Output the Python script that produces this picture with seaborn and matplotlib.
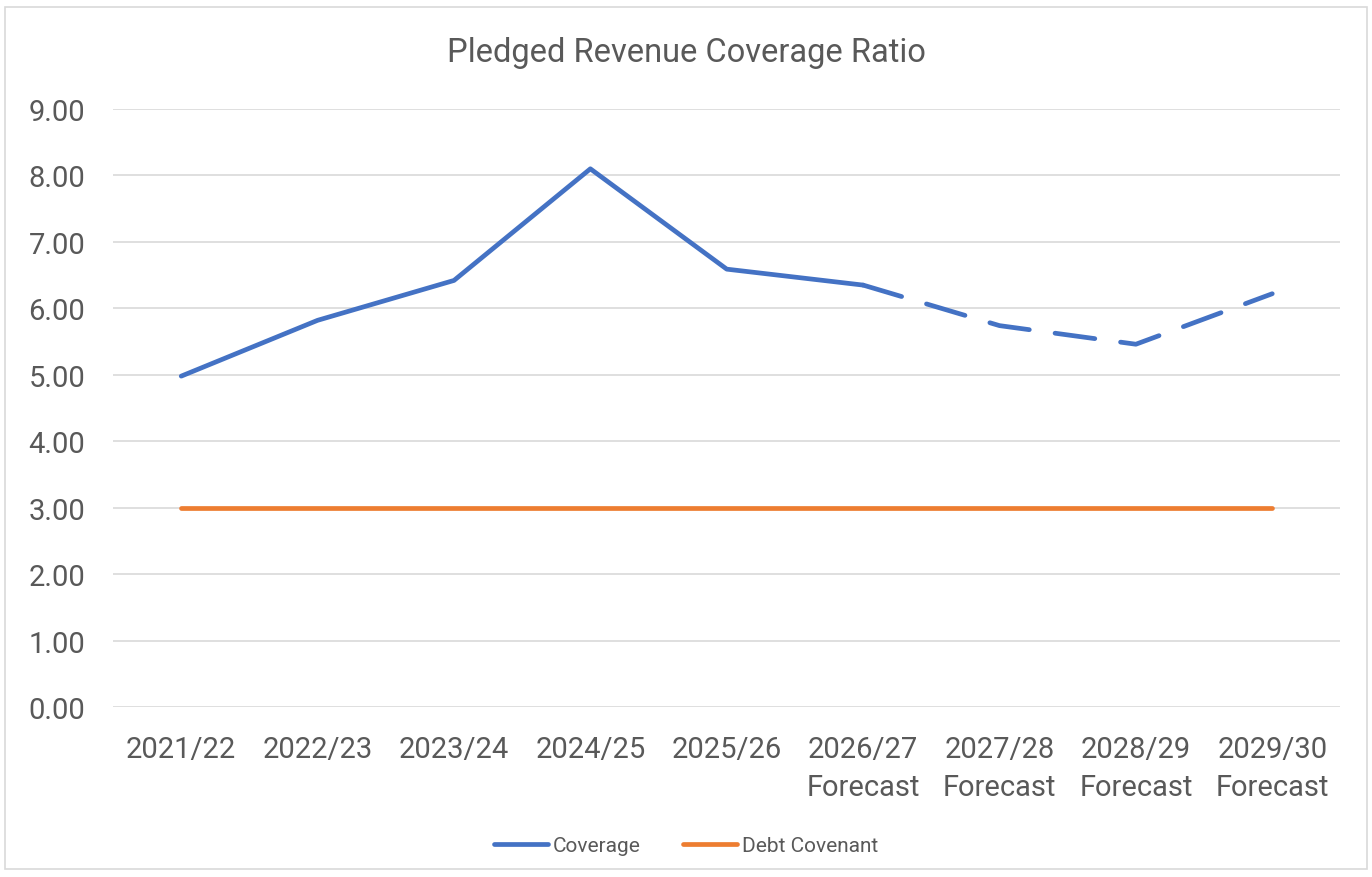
import numpy as np
import pandas as pd
import matplotlib
matplotlib.use('Agg')
import matplotlib.pyplot as plt
import seaborn as sns

# Chart data
years = ['2021/22', '2022/23', '2023/24', '2024/25', '2025/26',
         '2026/27\nForecast', '2027/28\nForecast', '2028/29\nForecast', '2029/30\nForecast']
coverage = [4.98, 5.82, 6.42, 8.10, 6.59, 6.35, 5.74, 5.46, 6.22]
covenant = [3.00, 3.00, 3.00, 3.00, 3.00, 3.00, 3.00, 3.00, 3.00]
n_actual = 6  # solid up to 2026/27, dashed after

sns.set_theme(style="white")
plt.rcParams['font.family'] = ['Roboto', 'DejaVu Sans']

df = pd.DataFrame({'idx': np.arange(len(years)), 'Coverage': coverage, 'Covenant': covenant})

fig = plt.figure(figsize=(13.72, 8.78), dpi=100)
ax = fig.add_axes([0.0824, 0.1936, 0.8946, 0.6811])

blue = '#4472C4'
orange = '#ED7D31'
grey = '#595959'

sns.lineplot(data=df.iloc[:n_actual], x='idx', y='Coverage', color=blue, lw=3.4,
             ax=ax, label='Coverage', solid_capstyle='round')
sns.lineplot(data=df.iloc[n_actual - 1:], x='idx', y='Coverage', color=blue, lw=3.4,
             ax=ax, linestyle=(0, (8.5, 5.5)), dash_capstyle='round')
sns.lineplot(data=df, x='idx', y='Covenant', color=orange, lw=3.4, ax=ax,
             label='Debt Covenant', solid_capstyle='round')

ax.set_xlim(-0.5, len(years) - 0.5)
ax.set_ylim(0, 9)
ax.set_yticks(np.arange(0, 10, 1))
ax.set_yticklabels([f'{v:.2f}' for v in np.arange(0, 10, 1)])
ax.set_xticks(np.arange(len(years)))
ax.set_xticklabels(years, linespacing=1.45)
ax.tick_params(axis='both', length=0, colors=grey, labelsize=21)
ax.tick_params(axis='y', pad=20)
ax.tick_params(axis='x', pad=20)
ax.yaxis.grid(True, color='#D9D9D9', lw=1.2)
ax.set_axisbelow(True)
for s in ax.spines.values():
    s.set_visible(False)
ax.set_xlabel('')
ax.set_ylabel('')

fig.suptitle('Pledged Revenue Coverage Ratio', x=0.5, y=0.958, fontsize=23.5, color=grey)

ax.get_legend().remove()
handles, labels = ax.get_legend_handles_labels()
leg = fig.legend(handles[:2], labels[:2], loc='center', bbox_to_anchor=(0.5, 0.036),
                 ncol=2, frameon=False, fontsize=15, handlelength=2.6,
                 columnspacing=2.0, handletextpad=0.25, labelcolor=grey)

# outer chart border
fig.patches.append(plt.Rectangle((0.004, 0.009), 0.992, 0.982, transform=fig.transFigure,
                                 fill=False, edgecolor='#D9D9D9', lw=1.2))

fig.savefig('out.png', dpi=100)
